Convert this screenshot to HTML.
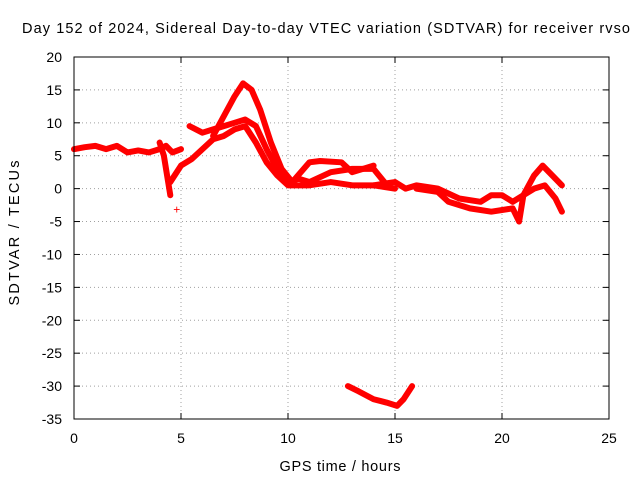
<!DOCTYPE html>
<html><head><meta charset="utf-8">
<style>
body{margin:0;background:#fff;}
svg{display:block;font-family:"Liberation Sans",sans-serif;}
</style></head>
<body>
<svg id="chart" width="640" height="480">
<rect width="640" height="480" fill="#fff"/>
<text x="326" y="33" font-size="14.5" text-anchor="middle" textLength="608" lengthAdjust="spacing">Day 152 of 2024, Sidereal Day-to-day VTEC variation (SDTVAR) for receiver rvso</text>
<text x="340" y="471" font-size="14.5" text-anchor="middle" textLength="121" lengthAdjust="spacing">GPS time / hours</text>
<text transform="translate(19,233) rotate(-90)" font-size="14.5" text-anchor="middle" textLength="145" lengthAdjust="spacing">SDTVAR / TECUs</text>
<g id="grid"></g>
<g id="ticks"></g>
<g id="series"></g>
<rect x="74" y="57" width="535" height="362" fill="none" stroke="#000"/>
</svg>
<script>
const xTicks=[0,5,10,15,20,25];
const yTicks=[20,15,10,5,0,-5,-10,-15,-20,-25,-30,-35];
const trackEarly=[[0,6],[0.5,6.3],[1,6.5],[1.5,6],[2,6.5],[2.5,5.5],[3,5.8],[3.5,5.5],[4,6],[4.3,6.5],[4.6,5.5],[5,6]];
const trackRise=[[4.5,1],[5,3.5],[5.5,4.5],[6,6],[6.5,7.5],[7,8],[7.5,9],[8,9.5],[8.5,7],[9,4],[9.5,2],[10,0.5],[11,0.5],[12,1],[13,0.5],[14,0.5],[15,0]];
const trackMid=[[5.4,9.5],[6,8.5],[6.5,9],[7,9.5],[7.5,10],[8,10.5],[8.5,9.5],[9,6],[9.5,3],[10,1],[10.5,1.5],[11,1],[12,2.5],[13,3],[14,3],[14.5,1]];
const trackPeak=[[6.5,8],[7,11],[7.5,14],[7.9,16],[8.3,15],[8.7,12],[9.2,7],[9.7,3],[10.2,1],[11,4],[11.5,4.2],[12.5,4],[13,2.5],[14,3.5]];
const trackLate=[[14,0.5],[15,1],[15.5,0],[16,0.5],[17,0],[18,-1.5],[19,-2],[19.5,-1],[20,-1],[20.5,-2],[21,-1],[21.5,0],[22,0.5],[22.5,-1.5],[22.8,-3.5]];
const trackLate2=[[16,0],[17,-0.5],[17.5,-2],[18.5,-3],[19.5,-3.5],[20.5,-3],[20.8,-5],[21,-1],[21.5,2],[21.9,3.5],[22.5,1.5],[22.8,0.5]];
const trackNeg=[[12.8,-30],[13.3,-30.8],[14,-32],[14.6,-32.5],[15.1,-33],[15.4,-32],[15.8,-30]];
const trackSpike=[[4,7],[4.2,5],[4.4,1],[4.5,-1]];
const tracks=[trackEarly,trackRise,trackMid,trackPeak,trackLate,trackLate2,trackNeg,trackSpike];
const x0=74,x1=609,y0=419,y1=57;
const sx=v=>x0+(v-0)/(25-0)*(x1-x0);
const sy=v=>y0-(v+35)/(55)*(y0-y1);
const NS="http://www.w3.org/2000/svg";
const grid=document.getElementById('grid'),ticks=document.getElementById('ticks'),ser=document.getElementById('series');
function mk(t,a,p){const e=document.createElementNS(NS,t);for(const k in a)e.setAttribute(k,a[k]);p.appendChild(e);return e;}
xTicks.forEach(v=>{const x=sx(v);
 if(v>0&&v<25){const l=mk('line',{x1:x,x2:x,y1:y0,y2:y1,stroke:'#a0a0a0','stroke-dasharray':'1,3'},grid);}
 mk('line',{x1:x,x2:x,y1:y0,y2:y0-6,stroke:'#000'},ticks);mk('line',{x1:x,x2:x,y1:y1,y2:y1+6,stroke:'#000'},ticks);
 const t=mk('text',{x:x,y:443,'font-size':14,'text-anchor':'middle'},ticks);t.textContent=v;
 });
yTicks.forEach(v=>{const y=sy(v);
 if(v<20&&v>-35){const l=mk('line',{x1:x0,x2:x1,y1:y,y2:y,stroke:'#a0a0a0','stroke-dasharray':'1,3'},grid);}
 mk('line',{x1:x0,x2:x0+6,y1:y,y2:y,stroke:'#000'},ticks);mk('line',{x1:x1,x2:x1-6,y1:y,y2:y,stroke:'#000'},ticks);
 const t=mk('text',{x:62,y:y+5,'font-size':14,'text-anchor':'end'},ticks);t.textContent=v;
 });
tracks.forEach(tr=>{
 const p=mk('polyline',{points:tr.map(d=>sx(d[0])+','+sy(d[1])).join(' '),fill:'none',stroke:'#f00','stroke-width':6,'stroke-linejoin':'round','stroke-linecap':'round'},ser);
 
 
});
const outlier=[[4.8,-3.2]];
outlier.forEach(d=>{const t=mk('text',{x:sx(d[0]),y:sy(d[1])+4,'font-size':12,fill:'#f00','text-anchor':'middle'},ser);t.textContent='+';
 });
</script>
</body></html>
